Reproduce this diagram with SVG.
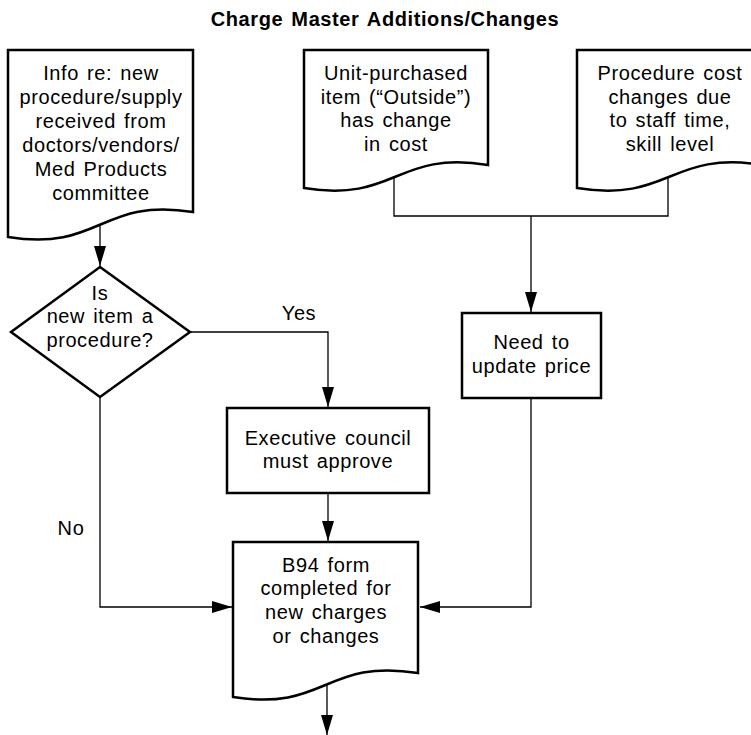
<svg xmlns="http://www.w3.org/2000/svg" width="751" height="735" viewBox="0 0 751 735">
  <defs>
    <style>
      .t { font-family: "Liberation Sans", Arial, Helvetica, sans-serif; font-size: 20px; letter-spacing: 0.6px; word-spacing: 2px; fill: #000; text-anchor: middle; }
      .title { font-weight: bold; }
      .shape { fill: #fff; stroke: #000; stroke-width: 2.5; stroke-linejoin: miter; }
      .conn { fill: none; stroke: #000; stroke-width: 1.3; }
    </style>
    <marker id="arrow" markerUnits="userSpaceOnUse" markerWidth="20" markerHeight="12" refX="20" refY="6" orient="auto">
      <path d="M0,0 L20,6 L0,12 Z" fill="#000"/>
    </marker>
  </defs>
  <rect width="751" height="735" fill="#fff"/>

  <text class="t title" x="385" y="26">Charge Master Additions/Changes</text>

  <g id="connectors">
    <path class="conn" d="M100,224.5 V266" marker-end="url(#arrow)"/>
    <path class="conn" d="M394,177 V216 H668 V177"/>
    <path class="conn" d="M531,216 V312" marker-end="url(#arrow)"/>
    <path class="conn" d="M190,332 H328 V407" marker-end="url(#arrow)"/>
    <path class="conn" d="M100,397 V607 H232" marker-end="url(#arrow)"/>
    <path class="conn" d="M328,493 V541" marker-end="url(#arrow)"/>
    <path class="conn" d="M531,398 V607 H420" marker-end="url(#arrow)"/>
    <path class="conn" d="M327,685 V735" marker-end="url(#arrow)"/>
    <text class="t" x="299" y="320">Yes</text>
    <text class="t" x="71" y="535">No</text>
  </g>

  <g id="info-doc">
    <path class="shape" d="M8,50 H193 V212 C100.5,197 100.5,252 8,237 Z"/>
    <text class="t" x="101" y="80">Info re: new</text>
    <text class="t" x="101" y="104">procedure/supply</text>
    <text class="t" x="101" y="128">received from</text>
    <text class="t" x="101" y="152">doctors/vendors/</text>
    <text class="t" x="101" y="176">Med Products</text>
    <text class="t" x="101" y="200">committee</text>
  </g>

  <g id="unit-doc">
    <path class="shape" d="M304,50 H488 V165 C396,150 396,203 304,188 Z"/>
    <text class="t" x="396" y="80">Unit-purchased</text>
    <text class="t" x="396" y="103.5">item (“Outside”)</text>
    <text class="t" x="396" y="127">has change</text>
    <text class="t" x="396" y="150.5">in cost</text>
  </g>

  <g id="procedure-doc">
    <path class="shape" d="M577,50 H763 V165 C670,150 670,203 577,188 Z"/>
    <text class="t" x="670" y="80">Procedure cost</text>
    <text class="t" x="670" y="103.5">changes due</text>
    <text class="t" x="670" y="127">to staff time,</text>
    <text class="t" x="670" y="150.5">skill level</text>
  </g>

  <g id="decision">
    <path class="shape" d="M100,267 L190,332 L100,397 L11,332 Z"/>
    <text class="t" x="100" y="300">Is</text>
    <text class="t" x="100" y="323">new item a</text>
    <text class="t" x="100" y="347">procedure?</text>
  </g>

  <g id="exec-council">
    <rect class="shape" x="227" y="408" width="202" height="85"/>
    <text class="t" x="328" y="445">Executive council</text>
    <text class="t" x="328" y="468">must approve</text>
  </g>

  <g id="update-price">
    <rect class="shape" x="462" y="313" width="139" height="85"/>
    <text class="t" x="531.5" y="349">Need to</text>
    <text class="t" x="531.5" y="373">update price</text>
  </g>

  <g id="b94-doc">
    <path class="shape" d="M233,542 H418 V673 C325.5,658 325.5,712 233,697 Z"/>
    <text class="t" x="326" y="572">B94 form</text>
    <text class="t" x="326" y="595">completed for</text>
    <text class="t" x="326" y="619">new charges</text>
    <text class="t" x="326" y="643">or changes</text>
  </g>
</svg>
